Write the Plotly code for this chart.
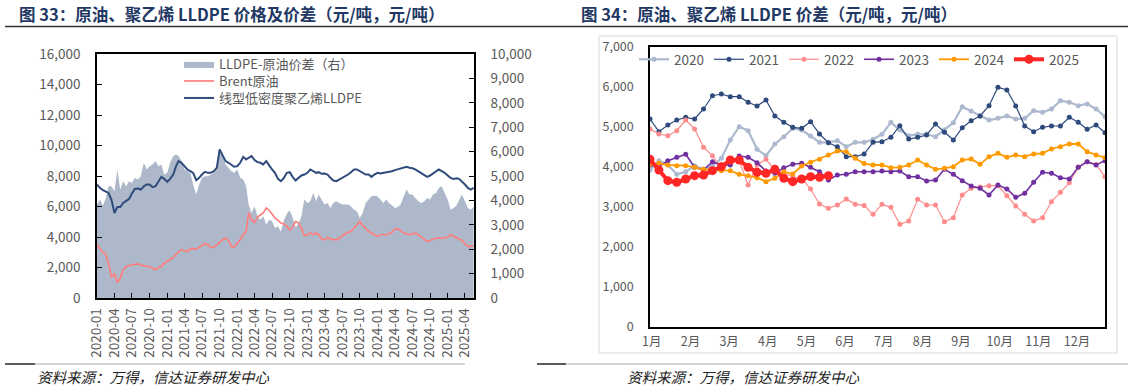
import plotly.graph_objects as go

# ---------------- Left chart data (half-monthly, 2020-01 .. 2025-05) ----------------
half_month_dates = [f"{2020 + (h // 2) // 12}-{(h // 2) % 12 + 1:02d}-{'01' if h % 2 == 0 else '16'}" for h in range(130)]

spread_right = [3828, 4033, 3786, 4101, 4581, 4581, 4376, 5267, 4444, 4787,
                4581, 4787, 4718, 4924, 4856, 4993, 5541, 5267, 5404, 5473,
                5610, 5404, 5473, 5061, 5130, 5541, 5816, 5884, 5816, 5610,
                5267, 5198, 5130, 4650, 4238, 4650, 4924, 4993, 4993, 5061,
                5130, 5267, 6021, 5884, 5473, 5336, 5198, 5130, 5267, 4924,
                4856, 4581, 3828, 3484, 3759, 3347, 3210, 3347, 3004, 3210,
                3141, 2867, 2936, 2730, 3200, 3450, 3600, 3300, 2900, 3050,
                3350, 4033, 3896, 3964, 4307, 3964, 4238, 4033, 3828, 3896,
                3690, 3896, 3964, 3896, 3828, 3828, 3828, 3759, 3621, 3553,
                3279, 3484, 3896, 4033, 4170, 4190, 4170, 4033, 3896, 4033,
                3896, 3800, 3690, 3730, 3828, 4150, 4444, 4238, 4238, 4101,
                3964, 3896, 3964, 4101, 4033, 4238, 4307, 4513, 4581, 4307,
                4033, 3621, 3690, 3800, 4033, 4238, 3964, 3690, 3621, 3730]

brent = [3491, 3271, 2986, 2876, 2284, 1406, 1582, 1011, 1297, 1845,
         2065, 2130, 2174, 2218, 2240, 2174, 2108, 2065, 2065, 1955,
         1845, 2000, 2065, 2284, 2394, 2547, 2657, 2876, 2986, 3162,
         3096, 3052, 3205, 3249, 3205, 3337, 3425, 3557, 3491, 3337,
         3315, 3491, 3644, 3820, 3930, 3776, 3381, 3337, 3600, 3820,
         4149, 4368, 5600, 5136, 4960, 5311, 5443, 5575, 5904, 5750,
         5509, 5246, 5092, 4917, 4850, 4697, 4478, 4653, 5026, 4917,
         4588, 4083, 4149, 4259, 4149, 4259, 4149, 3864, 3820, 3995,
         3864, 3820, 3820, 3930, 4039, 4215, 4303, 4368, 4588, 4807,
         5026, 4741, 4522, 4368, 4259, 4149, 4039, 4149, 4149, 4149,
         4215, 4303, 4522, 4522, 4434, 4259, 4215, 4149, 4215, 4259,
         4149, 3995, 3864, 3710, 3776, 3864, 3930, 3930, 3930, 3930,
         3995, 4149, 4039, 3930, 3864, 3776, 3557, 3381, 3381, 3425]

lldpe = [7440, 7220, 7067, 7001, 6891, 6452, 5575, 5970, 5970, 6233,
         6343, 6496, 6847, 7154, 7177, 7111, 7330, 7440, 7440, 7264,
         7330, 7659, 7944, 7813, 7615, 7813, 8098, 8647, 8976, 8866,
         8647, 8427, 8317, 8208, 7725, 7879, 8098, 8274, 8208, 8208,
         8317, 8537, 9743, 9414, 8976, 8866, 8756, 8603, 8647, 8866,
         9261, 9085, 9195, 9305, 9041, 8910, 8866, 8756, 8976, 8690,
         8427, 8208, 7813, 7659, 7879, 8208, 8252, 7944, 7703, 7879,
         8032, 8098, 8208, 8427, 8317, 8208, 8252, 8142, 8164, 8098,
         7879, 7703, 7659, 7769, 7879, 7944, 8098, 8252, 8427, 8427,
         8317, 8164, 8098, 8098, 7944, 8098, 8208, 8164, 8208, 8208,
         8252, 8317, 8383, 8427, 8493, 8559, 8603, 8537, 8515, 8427,
         8295, 8208, 8098, 7944, 8032, 8164, 8317, 8427, 8317, 8208,
         8032, 7879, 7813, 7857, 7813, 7659, 7440, 7220, 7111, 7220]

left_tick_dates = [f"{2020 + q * 3 // 12}-{(q * 3) % 12 + 1:02d}-01" for q in range(22)]

# ---------------- Right chart data (weekly, by year) ----------------
weeks = list(range(1, 53))
weeks_2025 = list(range(1, 22))
month_labels = ["1月", "2月", "3月", "4月", "5月", "6月", "7月", "8月", "9月", "10月", "11月", "12月"]

y2020 = [3925, 4158, 4050, 3817, 3883, 4033, 3950, 4025, 4217, 4675,
         5008, 4908, 4442, 4283, 4575, 4758, 4967, 4925, 4775, 4617,
         4617, 4658, 4508, 4617, 4617, 4692, 4817, 5117, 4925, 4783,
         4817, 4825, 4758, 4925, 5108, 5508, 5400, 5275, 5175, 5217,
         5275, 5200, 5217, 5408, 5367, 5450, 5658, 5617, 5533, 5575,
         5450, 5258]
y2021 = [5200, 4883, 5050, 5175, 5242, 5200, 5450, 5783, 5825, 5758,
         5758, 5617, 5525, 5675, 5275, 5117, 4992, 4967, 5133, 4825,
         4608, 4508, 4258, 4258, 4325, 4617, 4633, 4742, 5033, 4700,
         4742, 4800, 5075, 4867, 4675, 4983, 5158, 5275, 5533, 5992,
         5925, 5525, 5025, 4883, 4992, 5025, 5025, 5242, 5117, 4942,
         5050, 4858]
y2022 = [4950, 4825, 4783, 4908, 5175, 4950, 4492, 4283, 3950, 4092,
         4158, 3550, 4050, 4192, 3925, 3850, 3750, 3720, 3450, 3075,
         2967, 3050, 3200, 3067, 3040, 2817, 3067, 2992, 2567, 2650,
         3192, 3050, 3050, 2633, 2733, 3300, 3467, 3500, 3533, 3533,
         3283, 3025, 2817, 2650, 2733, 3133, 3367, 3608, 4000, 4130,
         4060, 3758]
y2023 = [4050, 4008, 4158, 4242, 4317, 3992, 3925, 4133, 4050, 4050,
         4275, 4242, 4108, 3900, 3842, 3983, 4067, 4092, 3992, 3883,
         3675, 3800, 3817, 3883, 3883, 3883, 3900, 3883, 3900, 3758,
         3758, 3650, 3675, 3942, 3817, 3658, 3525, 3467, 3300, 3550,
         3450, 3242, 3342, 3617, 3867, 3842, 3733, 3700, 3992, 4133,
         4050, 4158]
y2024 = [4067, 4092, 4050, 4033, 4033, 3992, 3942, 3925, 3908, 3908,
         3817, 3783, 3733, 3633, 3717, 3883, 3825, 4025, 4117, 4192,
         4300, 4400, 4383, 4220, 4085, 4050, 4050, 3983, 3992, 4050,
         4175, 4050, 3942, 3967, 4008, 4175, 4200, 4067, 4258, 4342,
         4242, 4300, 4258, 4325, 4342, 4450, 4508, 4575, 4575, 4383,
         4300, 4233]
y2025 = [4192, 3925, 3658, 3617, 3700, 3783, 3800, 3908, 4008, 4175,
         4175, 3992, 3867, 3842, 3942, 3717, 3633, 3700, 3758, 3742,
         3783]

W, H = 1133, 389
def px(x):
    return x / W
def py(y):
    return 1 - y / H

FONT = "Noto Sans CJK SC, Noto Sans, sans-serif"
GRAY = "#595959"

fig = go.Figure()

# Left chart: area on primary (right-side) axis so lines on the overlaying axis draw above it
fig.add_trace(go.Scatter(x=half_month_dates, y=spread_right, name="LLDPE-原油价差（右）",
                         mode="lines", line=dict(width=0, color="#adb9ca"),
                         fill="tozeroy", fillcolor="#adb9ca",
                         xaxis="x", yaxis="y", legend="legend"))
fig.add_trace(go.Scatter(x=half_month_dates, y=brent, name="Brent原油",
                         mode="lines", line=dict(width=1.7, color="#ff7f7f"),
                         xaxis="x", yaxis="y2", legend="legend3"))
fig.add_trace(go.Scatter(x=half_month_dates, y=lldpe, name="线型低密度聚乙烯LLDPE",
                         mode="lines", line=dict(width=2, color="#2f4b7c"),
                         xaxis="x", yaxis="y2", legend="legend4"))

# Right chart traces
series = [
    ("2020", weeks, y2020, "#adb9ce", 2.2, 5),
    ("2021", weeks, y2021, "#2e4a7d", 1.2, 5),
    ("2022", weeks, y2022, "#ff8c8c", 1.2, 5),
    ("2023", weeks, y2023, "#7030a0", 1.6, 5),
    ("2024", weeks, y2024, "#ff9900", 1.8, 5),
    ("2025", weeks_2025, y2025, "#ff2626", 4, 9),
]
for name, xs, ys, color, lw, ms in series:
    fig.add_trace(go.Scatter(x=xs, y=ys, name=name, mode="lines+markers",
                             line=dict(width=lw, color=color),
                             marker=dict(size=ms, color=color),
                             xaxis="x2", yaxis="y3", legend="legend2"))

tick_font = dict(family=FONT, size=13.5, color=GRAY)
tick_font_r = dict(family=FONT, size=12.5, color=GRAY)
leg_font = dict(family=FONT, size=13, color=GRAY)

def left_legend(ycenter):
    return dict(x=px(179), y=py(ycenter), xanchor="left", yanchor="middle",
                bgcolor="rgba(0,0,0,0)", font=leg_font, itemwidth=30,
                borderwidth=0)

fig.update_layout(
    width=W, height=H, autosize=False,
    margin=dict(l=0, r=0, t=0, b=0, pad=0, autoexpand=False),
    paper_bgcolor="white", plot_bgcolor="white",
    font=dict(family=FONT, color=GRAY),
    xaxis=dict(domain=[px(97), px(474)], type="date",
               range=["2020-01-01", "2025-05-18"],
               tickvals=left_tick_dates, tickformat="%Y-%m", tickangle=-90,
               tickfont=dict(family=FONT, size=13.5, color=GRAY),
               ticks="inside", ticklen=5, tickcolor="black",
               showline=True, linecolor="black", linewidth=1.5, mirror=True,
               showgrid=False, zeroline=False, ticklabelstandoff=3, anchor="y",
               automargin=False),
    yaxis=dict(domain=[py(298), py(54)], side="right", range=[0, 10000], dtick=1000,
               tickformat=",d", tickfont=tick_font,
               ticks="inside", ticklen=5, tickcolor="black",
               showline=True, linecolor="black", linewidth=1.5,
               showgrid=False, zeroline=False, ticklabelstandoff=12, anchor="x",
               automargin=False),
    yaxis2=dict(overlaying="y", side="left", range=[0, 16000], dtick=2000,
                tickformat=",d", tickfont=tick_font,
                ticks="inside", ticklen=5, tickcolor="black",
                showline=True, linecolor="black", linewidth=1.5,
                showgrid=False, zeroline=False, ticklabelstandoff=12, anchor="x",
                automargin=False),
    xaxis2=dict(domain=[px(650), px(1105)], range=[1, 52],
                tickvals=[1.2 + i * 52 / 12 for i in range(12)], ticktext=month_labels,
                tickfont=tick_font_r, ticks="",
                showline=True, linecolor="black", linewidth=1.5, mirror=True,
                showgrid=False, zeroline=False, ticklabelstandoff=2, anchor="y3",
                automargin=False),
    yaxis3=dict(domain=[py(327), py(47)], range=[0, 7000], dtick=1000,
                tickformat=",d", tickfont=tick_font_r, ticks="",
                showline=True, linecolor="black", linewidth=1.5, mirror=True,
                showgrid=False, zeroline=False, ticklabelstandoff=12, anchor="x2",
                automargin=False),
    legend=left_legend(64),
    legend3=left_legend(81),
    legend4=left_legend(98),
    legend2=dict(orientation="h", x=px(634), y=py(44), xanchor="left", yanchor="top",
                 bgcolor="rgba(0,0,0,0)", font=dict(family=FONT, size=13.5, color=GRAY),
                 entrywidth=30, entrywidthmode="pixels", itemwidth=30),
    showlegend=True,
)

# Titles
fig.add_annotation(x=px(17), y=py(14), xref="paper", yref="paper", xanchor="left", yanchor="middle",
                   text="<b>图 33：原油、聚乙烯 LLDPE 价格及价差（元/吨，元/吨）</b>", showarrow=False,
                   font=dict(family=FONT, size=16.5, color="#1f3864"))
fig.add_annotation(x=px(579), y=py(14), xref="paper", yref="paper", xanchor="left", yanchor="middle",
                   text="<b>图 34：原油、聚乙烯 LLDPE 价差（元/吨，元/吨）</b>", showarrow=False,
                   font=dict(family=FONT, size=16.5, color="#1f3864"))
# Footers
for x0 in (35, 625):
    fig.add_annotation(x=px(x0), y=py(376), xref="paper", yref="paper", xanchor="left", yanchor="middle",
                       text="<i>资料来源：万得，信达证券研发中心</i>", showarrow=False,
                       font=dict(family=FONT, size=14.5, color="#222222"))

shapes = [
    dict(type="line", xref="paper", yref="paper", x0=px(5), x1=px(1128), y0=py(26.5), y1=py(26.5),
         line=dict(color="#333333", width=1.5)),
    dict(type="rect", xref="paper", yref="paper", x0=px(599), x1=px(1117), y0=py(353), y1=py(36),
         line=dict(color="#d9d9d9", width=1)),
    dict(type="line", xref="paper", yref="paper", x0=px(5), x1=px(465), y0=py(364), y1=py(364),
         line=dict(color="#aaaaaa", width=1)),
    dict(type="line", xref="paper", yref="paper", x0=px(5), x1=px(35), y0=py(364), y1=py(364),
         line=dict(color="#333333", width=1.5)),
    dict(type="line", xref="paper", yref="paper", x0=px(537), x1=px(1128), y0=py(364), y1=py(364),
         line=dict(color="#aaaaaa", width=1)),
    dict(type="line", xref="paper", yref="paper", x0=px(537), x1=px(566), y0=py(364), y1=py(364),
         line=dict(color="#333333", width=1.5)),
]
fig.update_layout(shapes=shapes)

fig.write_html("out.html", config={"displayModeBar": False},
               post_script="document.body.style.margin='0px';")
